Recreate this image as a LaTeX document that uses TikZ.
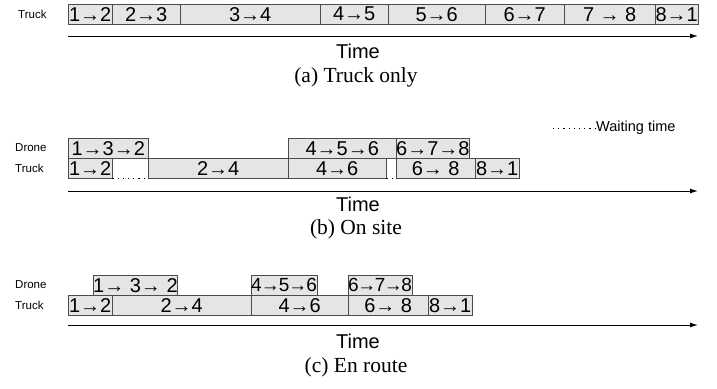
\documentclass[tikz,border=0pt]{standalone}
\usepackage{fontspec}
\setmainfont{Liberation Serif}
\setsansfont{Liberation Sans}
\usetikzlibrary{arrows.meta}

\begin{document}
\begin{tikzpicture}[x=1pt, y=-1pt,
    box/.style={rectangle, draw=black!70, fill=gray!20, inner sep=0pt, minimum height=20pt, anchor=north west, font=\sffamily\fontsize{20}{20}\selectfont},
    row/.style={anchor=west, inner sep=0pt, font=\sffamily\fontsize{11.5}{12}\selectfont},
    wait/.style={line width=1pt, dash pattern=on 1.2pt off 4pt},
    axis/.style={line width=1pt, -{Latex[length=8pt, width=5pt]}},
    timelbl/.style={font=\sffamily\fontsize{20}{20}\selectfont},
    subcap/.style={font=\fontsize{21.5}{21.5}\selectfont}]
    \useasboundingbox (0,0) rectangle (717,388);

    % (a) truck only
    \node(aT)[row] at (18,14) {Truck};
    \node(a12)[box, minimum width=44pt] at (68,4) {1→2};
    \node(a23)[box, minimum width=68pt] at (112,4) {2→3};
    \node(a34)[box, minimum width=140pt] at (180,4) {3→4};
    \node(a45)[box, minimum width=68pt] at (320,4) {4→5};
    \node(a56)[box, minimum width=97pt] at (388,4) {5→6};
    \node(a67)[box, minimum width=79pt] at (485,4) {6→7};
    \node(a78)[box, minimum width=91pt] at (564,4) {7 → 8};
    \node(a81)[box, minimum width=43pt] at (655,4) {8→1};
    \coordinate(aS) at (68,36);
    \coordinate(aE) at (698,36);
    \draw[axis] (aS) -- (aE);
    \node(atime)[timelbl] at (358,51) {Time};
    \node(acap)[subcap] at (356,77) {(a) Truck only};

    % (b) on site
    \node(bD)[row] at (15,148) {Drone};
    \node(bT)[row] at (15,168) {Truck};
    \node(b132)[box, minimum width=80pt] at (68,138) {1→3→2};
    \node(b456)[box, minimum width=108pt] at (288,138) {4→5→6};
    \node(b678)[box, minimum width=72pt] at (396,138) {6→7→8};
    \node(b12)[box, minimum width=44pt] at (68,158) {1→2};
    \node(b24)[box, minimum width=140pt] at (148,158) {2→4};
    \node(b46)[box, minimum width=98pt] at (288,158) {4→6};
    \node(b68)[box, minimum width=79pt] at (396,158) {6→ 8};
    \node(b81)[box, minimum width=44pt] at (475,158) {8→1};
    \draw[wait] (b12.south east) -- (b24.south west);
    \draw[wait] (b46.south east) -- (b68.south west);
    \coordinate(bW) at (553,128);
    \node(bwait)[row, font=\sffamily\fontsize{14.5}{14.5}\selectfont] at (596,128) {Waiting time};
    \draw[wait] (bW) -- (bwait.west);
    \coordinate(bS) at (68,191);
    \coordinate(bE) at (698,191);
    \draw[axis] (bS) -- (bE);
    \node(btime)[timelbl] at (358,204) {Time};
    \node(bcap)[subcap] at (356,229) {(b) On site};

    % (c) en route
    \node(cD)[row] at (15,285) {Drone};
    \node(cT)[row] at (15,305) {Truck};
    \node(c132)[box, minimum width=80pt] at (93,275) {1→ 3→ 2};
    \node(c456)[box, minimum width=62pt, font=\sffamily\fontsize{19}{19}\selectfont] at (251,275) {4\kern-1pt→\kern-1pt5\kern-1pt→\kern-1pt6};
    \node(c678)[box, minimum width=59pt, font=\sffamily\fontsize{19}{19}\selectfont] at (348,275) {6\kern-1.5pt→\kern-1.5pt7\kern-1.5pt→\kern-1.5pt8};
    \node(c12)[box, minimum width=44pt] at (68,295) {1→2};
    \node(c24)[box, minimum width=139pt] at (112,295) {2→4};
    \node(c46)[box, minimum width=97pt] at (251,295) {4→6};
    \node(c68)[box, minimum width=80pt] at (348,295) {6→ 8};
    \node(c81)[box, minimum width=44pt] at (428,295) {8→1};
    \coordinate(cS) at (68,325);
    \coordinate(cE) at (698,325);
    \draw[axis] (cS) -- (cE);
    \node(ctime)[timelbl] at (358,341) {Time};
    \node(ccap)[subcap] at (356,367) {(c) En route};

  \end{tikzpicture}
\end{document}
